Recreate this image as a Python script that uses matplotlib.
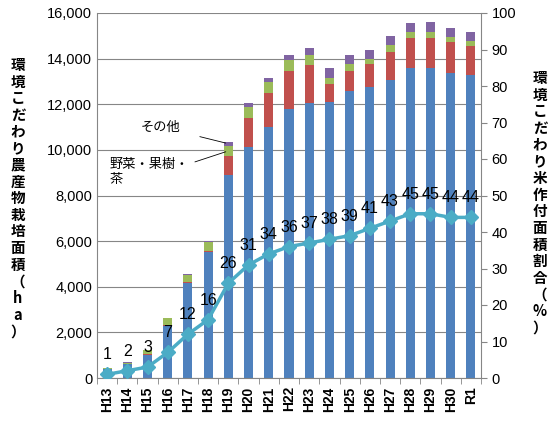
import matplotlib.pyplot as plt
import numpy as np

plt.rcParams['font.family'] = ['Liberation Sans', 'Noto Sans CJK JP', 'DejaVu Sans']

# data
years = ['H13', 'H14', 'H15', 'H16', 'H17', 'H18', 'H19', 'H20', 'H21', 'H22',
         'H23', 'H24', 'H25', 'H26', 'H27', 'H28', 'H29', 'H30', 'R1']
rice = [380, 600, 1000, 2290, 4180, 5540, 8900, 10130, 11020, 11790,
        12050, 12110, 12580, 12760, 13080, 13600, 13600, 13370, 13280]
other_crops = [10, 10, 60, 20, 50, 40, 830, 1280, 1470, 1670,
               1670, 790, 890, 1020, 1230, 1320, 1320, 1360, 1290]
veg_fruit_tea = [50, 60, 170, 310, 300, 400, 450, 480, 490, 480,
                 440, 230, 310, 210, 300, 250, 250, 220, 210]
others = [10, 10, 10, 10, 40, 30, 180, 160, 170, 220,
          320, 460, 380, 390, 400, 410, 450, 410, 400]
rice_ratio = [1, 2, 3, 7, 12, 16, 26, 31, 34, 36, 37, 38, 39, 41, 43, 45, 45, 44, 44]

fig = plt.figure(figsize=(5.55, 4.21), dpi=100)
ax = fig.add_axes([97 / 555, 1 - 378 / 421, (481 - 97) / 555, (378 - 13) / 421])

x = np.arange(len(years))
w = 0.45
b1 = np.array(rice)
b2 = b1 + np.array(other_crops)
b3 = b2 + np.array(veg_fruit_tea)
ax.bar(x, rice, w, color='#4F81BD', zorder=2)
ax.bar(x, other_crops, w, bottom=b1, color='#C0504D', zorder=2)
ax.bar(x, veg_fruit_tea, w, bottom=b2, color='#9BBB59', zorder=2)
ax.bar(x, others, w, bottom=b3, color='#8064A2', zorder=2)

ax.set_ylim(0, 16000)
ax.set_xlim(-0.5, len(years) - 0.5)
ax.set_yticks(range(0, 16001, 2000))
ax.set_yticklabels(['{:,}'.format(v) for v in range(0, 16001, 2000)], fontsize=10.5)
ax.grid(axis='y', color='#868686', linewidth=0.8, zorder=0)
ax.set_xticks(x)
ax.set_xticklabels(years, rotation=90, fontsize=10, fontweight='bold')
ax.set_xticks(np.arange(-0.5, len(years), 1), minor=True)
ax.tick_params(axis='x', which='major', length=0, pad=6)
ax.tick_params(axis='x', which='minor', length=4, color='#868686')
ax.tick_params(axis='y', length=0)
for s in ['top', 'right']:
    ax.spines[s].set_visible(False)
ax.spines['left'].set_color('#868686')
ax.spines['bottom'].set_color('#868686')

ax2 = ax.twinx()
ax2.plot(x, rice_ratio, color='#4BACC6', linewidth=2.5, marker='D', markersize=7, zorder=3)
for xi, v in zip(x, rice_ratio):
    ax2.text(xi, v + 3.3, str(v), ha='center', va='bottom', fontsize=11.5, zorder=4)
ax2.set_ylim(0, 100)
ax2.set_yticks(range(0, 101, 10))
ax2.tick_params(axis='y', length=4, color='#868686', labelsize=10.5)
for s in ['top', 'left', 'bottom']:
    ax2.spines[s].set_visible(False)
ax2.spines['right'].set_color('#868686')

jp = ['Noto Sans CJK JP', 'DejaVu Sans']
left_label = '環境こだわり農産物栽培面積（ha）'
right_label = '環境こだわり米作付面積割合（%）'
fig.text(18 / 555, 1 - 198 / 421, '\n'.join(left_label), family=jp, fontsize=10.5,
         ha='center', va='center', linespacing=1.05, fontweight='bold')
fig.text(540 / 555, 1 - 203 / 421, '\n'.join(right_label), family=jp, fontsize=10.5,
         ha='center', va='center', linespacing=1.05, fontweight='bold')

# callouts
ax.annotate('その他', xy=(6, b3[6] + others[6] / 2), xytext=(161 / 555, 1 - 127 / 421),
            textcoords='figure fraction', family=jp, fontsize=9.5, ha='center', va='center',
            arrowprops=dict(arrowstyle='-', color='black', lw=0.6, shrinkA=12, shrinkB=2))
ax.annotate('野菜・果樹・\n茶', xy=(6, b2[6] + veg_fruit_tea[6] / 2), xytext=(110 / 555, 1 - 172 / 421),
            textcoords='figure fraction', family=jp, fontsize=9.5, ha='left', va='center',
            arrowprops=dict(arrowstyle='-', color='black', lw=0.6, shrinkA=2, shrinkB=2,
                            relpos=(0.95, 0.75)))

plt.savefig('out.png', dpi=100)
